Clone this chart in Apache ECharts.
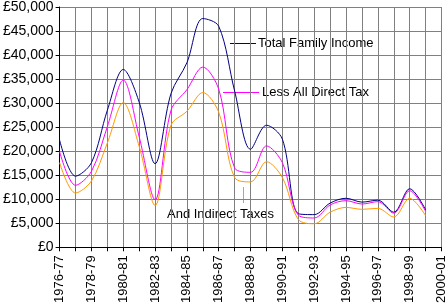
<!DOCTYPE html>
<html>
<head>
<meta charset="utf-8">
<script src="https://cdn.jsdelivr.net/npm/echarts@6/dist/echarts.min.js"></script>
<style>html,body{margin:0;padding:0;background:#fff;}#c{width:448px;height:306px;}</style>
</head>
<body>
<div id="c"></div>
<script>
const categories = ['1976-77','1977-78','1978-79','1979-80','1980-81','1981-82','1982-83','1983-84','1984-85','1985-86','1986-87','1987-88','1988-89','1989-90','1990-91','1991-92','1992-93','1993-94','1994-95','1995-96','1996-97','1997-98','1998-99','1999-00','2000-01'];
const totalFamilyIncome = [22300,14800,17600,28500,37000,30200,17400,32000,38400,47600,46000,32500,20400,25400,22500,7000,6800,9200,10200,9400,9800,7300,12200,7800,null];
const lessDirectTax = [19900,12900,15800,25100,34800,23000,9900,28500,32800,37500,32900,16500,15600,21100,17600,6700,6100,8800,9700,9000,9500,7100,11800,7500,null];
const andIndirectTaxes = [17600,11300,13800,21700,30100,21000,8700,25400,28300,32200,28100,14500,13600,17800,14500,5800,4900,7300,8300,7900,8100,6300,10200,6600,null];
const yTicks = {min: 0, max: 50000, interval: 5000};

const font = 'Liberation Sans, Arial, sans-serif';
const chart = echarts.init(document.getElementById('c'), null, {renderer: 'canvas'});
function fmt(v){ return '£' + String(v).replace(/\B(?=(\d{3})+(?!\d))/g, ','); }
function line(name, data, color){
  return {name, type:'line', data, smooth:0.33, symbol:'none', connectNulls:false,
    lineStyle:{color, width:1}, itemStyle:{color}, animation:false};
}
chart.setOption({
  animation:false,
  backgroundColor:'#fff',
  grid:{left:58, right:6, top:6, bottom:57, containLabel:false},
  xAxis:{type:'category', data:categories, boundaryGap:false,
    axisLine:{lineStyle:{color:'#000', width:1}},
    axisTick:{show:true, interval:0, length:4, lineStyle:{color:'#000'}},
    axisLabel:{interval:1, rotate:90, margin:8, color:'#000', fontFamily:font, fontSize:13},
    splitLine:{show:true, interval:0, lineStyle:{color:'#808080', width:1}}},
  yAxis:{type:'value', min:yTicks.min, max:yTicks.max, interval:yTicks.interval,
    axisLine:{show:true, lineStyle:{color:'#000', width:1}},
    axisTick:{show:true, length:4, lineStyle:{color:'#000'}},
    axisLabel:{formatter:fmt, margin:6, color:'#000', fontFamily:font, fontSize:14},
    splitLine:{show:true, lineStyle:{color:'#808080', width:1}}},
  series:[
    line('Total Family Income', totalFamilyIncome, '#000080'),
    line('Less All Direct Tax', lessDirectTax, '#FF00FF'),
    line('And Indirect Taxes', andIndirectTaxes, '#FF9900')
  ],
  graphic:[
    {type:'line', shape:{x1:230,y1:43.5,x2:256,y2:43.5}, style:{stroke:'#000080', lineWidth:1}},
    {type:'text', x:258, y:43, style:{text:'Total Family Income', font:'13px '+font, fill:'#000', verticalAlign:'middle'}},
    {type:'line', shape:{x1:223,y1:92.5,x2:259,y2:92.5}, style:{stroke:'#FF00FF', lineWidth:1}},
    {type:'text', x:262, y:92, style:{text:'Less All Direct Tax', font:'13px '+font, fill:'#000', verticalAlign:'middle'}},
    {type:'line', shape:{x1:243.5,y1:187,x2:243.5,y2:203}, style:{stroke:'#FF9900', lineWidth:1}},
    {type:'text', x:167, y:214, style:{text:'And Indirect Taxes', font:'13px '+font, fill:'#000', verticalAlign:'middle'}}
  ]
});
</script>
</body>
</html>
